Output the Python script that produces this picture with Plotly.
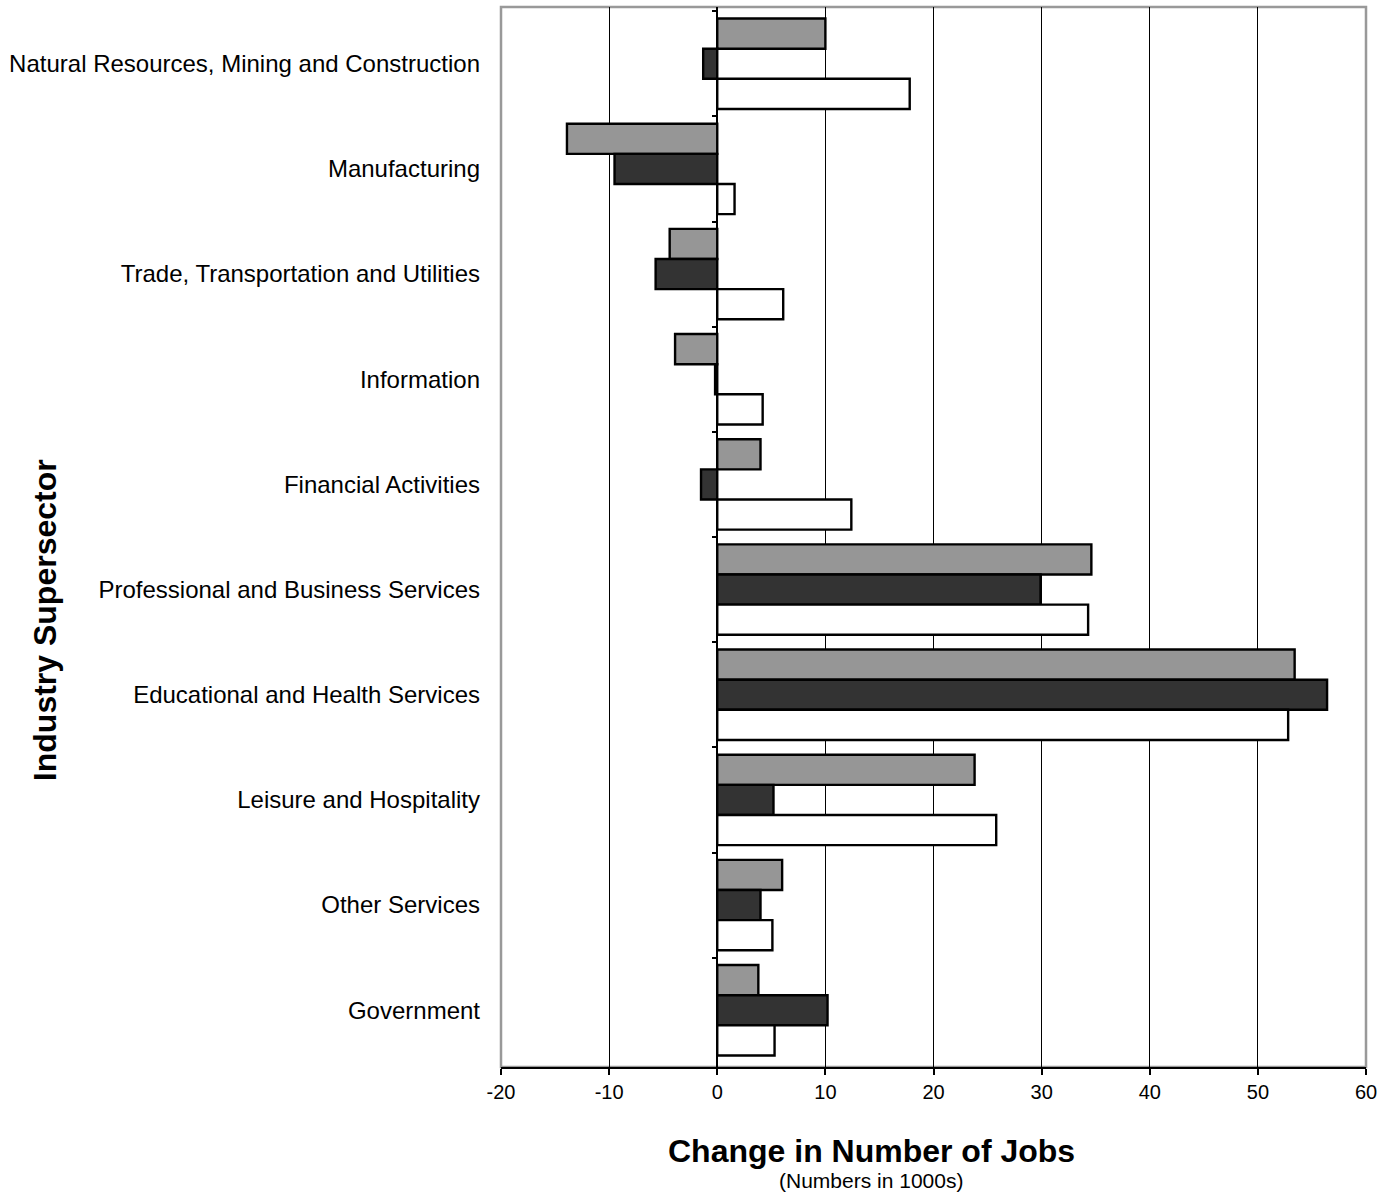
import plotly.graph_objects as go

categories = [
    "Natural Resources, Mining and Construction",
    "Manufacturing",
    "Trade, Transportation and Utilities",
    "Information",
    "Financial Activities",
    "Professional and Business Services",
    "Educational and Health Services",
    "Leisure and Hospitality",
    "Other Services",
    "Government",
]
series_gray = [10.0, -13.9, -4.4, -3.9, 4.0, 34.6, 53.4, 23.8, 6.0, 3.8]
series_dark = [-1.3, -9.5, -5.7, -0.2, -1.5, 29.9, 56.4, 5.2, 4.0, 10.2]
series_white = [17.8, 1.6, 6.1, 4.2, 12.4, 34.3, 52.8, 25.8, 5.1, 5.3]
series_names = ["Series 1", "Series 2", "Series 3"]
x_ticks = [-20, -10, 0, 10, 20, 30, 40, 50, 60]

FONT = "Liberation Sans, Arial, sans-serif"

fig = go.Figure()
for name, vals, col in zip(series_names, [series_gray, series_dark, series_white],
                           ["#969696", "#333333", "#ffffff"]):
    fig.add_trace(go.Bar(
        y=categories, x=vals, orientation="h", name=name,
        marker=dict(color=col, line=dict(color="#000000", width=2.4)),
        showlegend=False,
    ))

# invisible helper trace for the category tick marks drawn at zero
fig.add_trace(go.Scatter(
    x=[0] * len(categories), y=categories, yaxis="y2", mode="markers",
    marker=dict(opacity=0), hoverinfo="skip", showlegend=False,
))

fig.update_layout(
    width=1394, height=1195,
    margin=dict(l=501, r=28, t=7, b=128),
    paper_bgcolor="white", plot_bgcolor="white",
    font=dict(family=FONT, color="black"),
    barmode="group", bargap=0.14, bargroupgap=0,
    xaxis=dict(
        range=[-20, 60], tickvals=x_ticks, ticktext=[str(v) for v in x_ticks],
        showgrid=True, gridcolor="#000000", gridwidth=1,
        zeroline=True, zerolinecolor="#000000", zerolinewidth=2,
        showline=True, linecolor="#000000", linewidth=2,
        ticks="outside", ticklen=6, tickcolor="#000000", tickwidth=1.5,
        tickfont=dict(size=20, family=FONT, color="black"),
    ),
    yaxis=dict(
        categoryorder="array", categoryarray=categories,
        autorange="reversed",
        showgrid=False, zeroline=False, showline=False, ticks="",
        tickfont=dict(size=24, family=FONT, color="black"),
        ticklabelstandoff=20,
    ),
    yaxis2=dict(
        overlaying="y", matches="y", anchor="free", position=0.25,
        showticklabels=False, showgrid=False, zeroline=False, showline=False,
        ticks="outside", tickson="boundaries", ticklen=5, tickcolor="#000000",
        tickwidth=1.5,
    ),
    shapes=[dict(type="rect", xref="paper", yref="paper", x0=0, x1=1, y0=0, y1=1,
                 line=dict(color="#999999", width=2.5), layer="below")],
    annotations=[
        dict(text="<b>Industry Supersector</b>", textangle=-90, xref="paper", yref="paper",
             x=-0.527, y=0.4217, xanchor="center", yanchor="middle", showarrow=False,
             font=dict(size=32, family=FONT, color="black")),
        dict(text="<b>Change in Number of Jobs</b>", xref="paper", yref="paper",
             x=0.428, y=-0.079, xanchor="center", yanchor="middle", showarrow=False,
             font=dict(size=32, family=FONT, color="black")),
        dict(text="(Numbers in 1000s)", xref="paper", yref="paper",
             x=0.428, y=-0.107, xanchor="center", yanchor="middle", showarrow=False,
             font=dict(size=21, family=FONT, color="black")),
    ],
)

fig.write_html("out.html", config={"displayModeBar": False},
               post_script="document.body.style.margin='0';")
